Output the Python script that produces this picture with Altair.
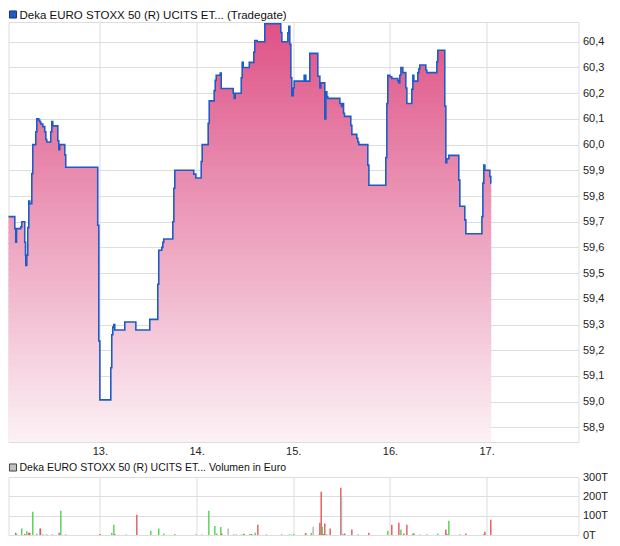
import altair as alt
import pandas as pd

# ---- price series (day fraction, price in EUR) ----
price_days = [
    12.000, 12.017, 12.120, 12.130, 12.138, 12.182, 12.192, 12.223, 12.231, 12.234,
    12.244, 12.254, 12.265, 12.275, 12.296, 12.306, 12.337, 12.348, 12.368, 12.379,
    12.389, 12.410, 12.430, 12.441, 12.451, 12.492, 12.503, 12.513, 12.565, 12.575,
    12.585, 12.637, 12.647, 12.978, 12.989, 13.000, 13.113, 13.123, 13.134, 13.144,
    13.154, 13.258, 13.372, 13.516, 13.599, 13.609, 13.640, 13.651, 13.661, 13.754,
    13.765, 13.775, 13.971, 13.992, 14.048, 14.058, 14.120, 14.131, 14.182, 14.193,
    14.203, 14.245, 14.255, 14.379, 14.389, 14.400, 14.462, 14.472, 14.482, 14.545,
    14.592, 14.602, 14.627, 14.706, 14.871, 14.882, 14.944, 14.954, 14.964, 14.975,
    14.985, 15.000, 15.010, 15.113, 15.130, 15.171, 15.254, 15.275, 15.285, 15.326,
    15.337, 15.347, 15.357, 15.482, 15.499, 15.510, 15.520, 15.530, 15.595, 15.606,
    15.657, 15.668, 15.678, 15.771, 15.782, 15.957, 15.968, 15.978, 15.999, 16.019,
    16.082, 16.092, 16.102, 16.113, 16.133, 16.164, 16.175, 16.226, 16.237, 16.247,
    16.288, 16.299, 16.309, 16.371, 16.381, 16.485, 16.495, 16.567, 16.578, 16.588,
    16.609, 16.712, 16.723, 16.774, 16.785, 16.951, 16.961, 16.971, 16.982, 17.033,
    17.043, 17.047,
]
price_values = [
    59.706, 59.720, 59.673, 59.620, 59.673, 59.680, 59.700, 59.620, 59.570, 59.530,
    59.570, 59.677, 59.780, 59.770, 59.887, 60.000, 60.050, 60.100, 60.095, 60.088,
    60.080, 60.070, 60.050, 60.020, 60.010, 60.050, 60.090, 60.073, 60.015, 59.980,
    60.000, 59.960, 59.912, 59.686, 59.236, 59.007, 59.132, 59.260, 59.290, 59.300,
    59.279, 59.310, 59.279, 59.320, 59.457, 59.589, 59.600, 59.620, 59.633, 59.700,
    59.830, 59.900, 59.885, 59.870, 59.934, 60.000, 60.083, 60.170, 60.210, 60.250,
    60.270, 60.278, 60.218, 60.200, 60.180, 60.200, 60.260, 60.320, 60.300, 60.320,
    60.360, 60.405, 60.400, 60.470, 60.436, 60.400, 60.435, 60.460, 60.390, 60.260,
    60.190, 60.220, 60.247, 60.270, 60.247, 60.355, 60.266, 60.220, 60.240, 60.100,
    60.205, 60.187, 60.180, 60.160, 60.148, 60.160, 60.122, 60.110, 60.075, 60.040,
    60.025, 60.010, 60.000, 59.920, 59.842, 59.950, 60.160, 60.270, 60.264, 60.257,
    60.248, 60.240, 60.270, 60.300, 60.280, 60.220, 60.160, 60.215, 60.270, 60.247,
    60.280, 60.295, 60.310, 60.290, 60.280, 60.322, 60.367, 60.150, 59.930, 59.945,
    59.958, 59.862, 59.760, 59.707, 59.653, 59.720, 59.850, 59.920, 59.900, 59.876,
    59.850, 59.850,
]

# ---- volume series (day fraction, volume in thousand EUR, direction) ----
vol_days = [
    12.013, 12.130, 12.138, 12.192, 12.223, 12.244, 12.265, 12.275, 12.306, 12.348,
    12.379, 12.386, 12.410, 12.451, 12.510, 12.579, 12.596, 12.647, 13.000, 13.123,
    13.144, 13.154, 13.268, 13.382, 13.527, 13.609, 13.661, 13.775, 13.996, 14.058,
    14.127, 14.189, 14.209, 14.251, 14.261, 14.327, 14.385, 14.410, 14.465, 14.486,
    14.493, 14.551, 14.568, 14.606, 14.634, 14.723, 14.879, 14.958, 14.979, 15.006,
    15.120, 15.130, 15.186, 15.206, 15.268, 15.275, 15.289, 15.300, 15.313, 15.326,
    15.347, 15.382, 15.492, 15.499, 15.513, 15.533, 15.606, 15.672, 15.782, 15.978,
    16.019, 16.092, 16.113, 16.144, 16.175, 16.237, 16.247, 16.309, 16.381, 16.495,
    16.578, 16.588, 16.609, 16.723, 16.785, 16.971, 16.982, 17.043,
]
vol_values = [
    7, 12, 4, 33, 5, 19, 12, 12, 120, 7,
    33, 33, 3, 3, 3, 12, 126, 3, 5, 12,
    53, 5, 3, 105, 22, 33, 8, 5, 3, 3,
    126, 47, 8, 41, 8, 33, 3, 3, 3, 7,
    5, 5, 5, 12, 53, 3, 3, 3, 3, 5,
    3, 10, 10, 43, 3, 64, 224, 43, 5, 59,
    3, 33, 245, 200, 5, 8, 28, 3, 12, 22,
    53, 64, 28, 8, 53, 8, 8, 3, 3, 8,
    28, 5, 74, 3, 8, 5, 17, 79,
]
vol_dir = [
    "up", "down", "up", "up", "down", "up", "down", "down", "up", "up",
    "flat", "down", "down", "down", "down", "down", "up", "down", "down", "up",
    "up", "down", "up", "down", "up", "up", "up", "up", "down", "up",
    "up", "up", "up", "up", "down", "flat", "down", "up", "up", "down",
    "up", "up", "down", "up", "down", "up", "down", "up", "up", "up",
    "up", "down", "up", "flat", "down", "down", "down", "up", "down", "down",
    "down", "down", "down", "flat", "up", "down", "down", "down", "down", "up",
    "down", "down", "up", "down", "down", "up", "down", "up", "down", "up",
    "down", "down", "up", "down", "down", "up", "down", "down",
]

day_ticks = [13, 14, 15, 16, 17]
price_ticks = [58.9, 59.0, 59.1, 59.2, 59.3, 59.4, 59.5, 59.6, 59.7, 59.8, 59.9, 60.0, 60.1, 60.2, 60.3, 60.4]
vol_ticks = [0, 100, 200, 300]
price_label = "Deka EURO STOXX 50 (R) UCITS ET... (Tradegate)"
volume_label = "Deka EURO STOXX 50 (R) UCITS ET... Volumen in Euro"

FONT = "Liberation Sans"
X_DOMAIN = [12.055, 17.95]
Y_DOMAIN = [58.843, 60.477]
W = 570

price_df = pd.DataFrame({"day": price_days, "price": price_values})
vol_df = pd.DataFrame({"day": vol_days, "vol": vol_values, "dir": vol_dir})

# colour bands for the vertical fill gradient (styling only)
N_BANDS = 80
band_step = (Y_DOMAIN[1] - Y_DOMAIN[0]) / N_BANDS
band_df = pd.DataFrame({"band": list(range(N_BANDS))})
band_df["lo"] = Y_DOMAIN[0] + band_df["band"] * band_step
band_df["hi"] = band_df["lo"] + band_step
band_df["mid"] = band_df["lo"] + band_step / 2
fill_df = price_df.merge(band_df, how="cross")

x_scale = alt.Scale(domain=X_DOMAIN, nice=False, zero=False)
y_scale = alt.Scale(domain=Y_DOMAIN, nice=False, zero=False)

x_top = alt.X("day:Q", scale=x_scale, axis=alt.Axis(
    values=day_ticks, labelExpr="datum.value + '.'", title=None, grid=True,
    ticks=False, tickSize=0, domain=False, labelPadding=3, labelFontSize=11,
    labelFont=FONT, labelColor="#222222", gridColor="#dddddd"))
y_axis = alt.Axis(orient="right", values=price_ticks, tickCount=16,
                  labelExpr="replace(format(datum.value, '.1f'), '.', ',')",
                  title=None, ticks=False, tickSize=0, domain=False, labelPadding=4,
                  labelOverlap=False, labelSeparation=0, labelFontSize=11,
                  labelFont=FONT, labelColor="#222222", gridColor="#dddddd")

area = alt.Chart(fill_df).transform_calculate(
    ytop="clamp(datum.price, datum.lo, datum.hi)",
    ybot=f"datum.price > datum.lo ? datum.lo - {band_step * 0.35} : datum.lo",
).mark_area(interpolate="step-after", clip=True, opacity=1, strokeWidth=0).encode(
    x=x_top,
    y=alt.Y("ytop:Q", scale=y_scale, axis=y_axis, stack=None),
    y2="ybot:Q",
    detail="band:O",
    color=alt.Color("mid:Q", legend=None,
                    scale=alt.Scale(domain=Y_DOMAIN, range=["#fcf2f6", "#de5286"],
                                    interpolate="rgb")),
)

line = alt.Chart(price_df).mark_line(
    interpolate="step-after", clip=True, color="#1f5bc8", strokeWidth=1.6
).encode(x=x_top, y=alt.Y("price:Q", scale=y_scale, axis=y_axis))

leg1 = pd.DataFrame({"label": [price_label]})
sq1 = alt.Chart(leg1).mark_square(size=50, fill="#1f5bc8", stroke="#1a3570",
                                  strokeWidth=1, opacity=1).encode(
    x=alt.value(4.5), y=alt.value(-7.5))
tx1 = alt.Chart(leg1).mark_text(align="left", baseline="alphabetic", fontSize=11.5,
                                font=FONT, color="#111111").encode(
    x=alt.value(11), y=alt.value(-3.5), text="label:N")

top = alt.layer(area, line, sq1, tx1).properties(width=W, height=420)

x_bot = alt.X("day:Q", scale=x_scale, axis=alt.Axis(
    values=day_ticks, labels=False, title=None, grid=True, ticks=False, tickSize=0,
    domain=False, gridColor="#dddddd"))
y_bot = alt.Y("vol:Q", scale=alt.Scale(domain=[0, 300], nice=False),
              axis=alt.Axis(orient="right", values=vol_ticks, labelExpr="datum.value + 'T'",
                            title=None, ticks=False, tickSize=0, domain=False, labelPadding=4,
                            labelOverlap=False, labelFontSize=11, labelFont=FONT,
                            labelColor="#222222", gridColor="#dddddd"))

bars = alt.Chart(vol_df).mark_rule(strokeWidth=1.4, clip=True).encode(
    x=x_bot, y=y_bot, y2=alt.datum(0),
    color=alt.Color("dir:N", legend=None,
                    scale=alt.Scale(domain=["up", "down", "flat"],
                                    range=["#52d152", "#e05858", "#b4b4b4"])))

leg2 = pd.DataFrame({"label": [volume_label]})
sq2 = alt.Chart(leg2).mark_square(size=50, fill="#c0c0c0", stroke="#444444",
                                  strokeWidth=1, opacity=1).encode(
    x=alt.value(4.5), y=alt.value(-9.5))
tx2 = alt.Chart(leg2).mark_text(align="left", baseline="alphabetic", fontSize=10.5,
                                font=FONT, color="#111111").encode(
    x=alt.value(11), y=alt.value(-6), text="label:N")

bottom = alt.layer(bars, sq2, tx2).properties(width=W, height=58)

chart = alt.vconcat(
    top, bottom, spacing=4,
    padding={"left": -1.5, "top": 0, "right": 0, "bottom": 0},
).configure_view(stroke="#cccccc", strokeWidth=1).configure(background="white")

chart.save("out.html", embed_options={"renderer": "svg", "actions": False})
